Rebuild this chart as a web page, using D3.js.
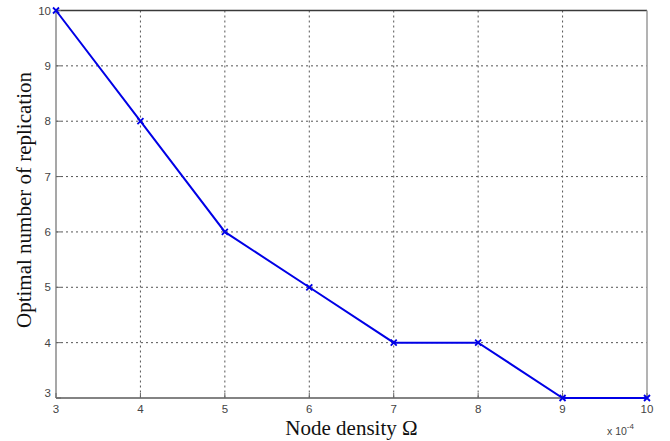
<!DOCTYPE html>
<html>
<head>
<meta charset="utf-8">
<script src="https://cdn.jsdelivr.net/npm/d3@7"></script>
<style>
  body { margin: 0; background: #fff; }
  svg { display: block; }
</style>
</head>
<body>
<div id="chart"></div>
<script>
// données
const density = [3, 4, 5, 6, 7, 8, 9, 10];        // x 10^-4
const replication = [10, 8, 6, 5, 4, 4, 3, 3];
const xTicks = [3, 4, 5, 6, 7, 8, 9, 10];
const yTicks = [3, 4, 5, 6, 7, 8, 9, 10];

const width = 670;
const height = 441;
const margin = { top: 10.5, right: 23, bottom: 43, left: 56 };

const svg = d3.select("#chart")
  .append("svg")
  .attr("width", width)
  .attr("height", height);

const x = d3.scaleLinear()
  .domain([3, 10])
  .range([margin.left, width - margin.right]);

const y = d3.scaleLinear()
  .domain([3, 10])
  .range([height - margin.bottom, margin.top]);

// grille pointillée
svg.append("g")
  .selectAll("line")
  .data(xTicks.slice(1, -1))
  .join("line")
  .attr("x1", d => x(d)).attr("x2", d => x(d))
  .attr("y1", margin.top).attr("y2", height - margin.bottom)
  .attr("stroke", "#555")
  .attr("stroke-width", 1)
  .attr("stroke-dasharray", "2,3");

svg.append("g")
  .selectAll("line")
  .data(yTicks.slice(1, -1))
  .join("line")
  .attr("x1", margin.left).attr("x2", width - margin.right)
  .attr("y1", d => y(d)).attr("y2", d => y(d))
  .attr("stroke", "#555")
  .attr("stroke-width", 1)
  .attr("stroke-dasharray", "2,3");

// cadre
const x0 = x(3), x1 = x(10), y0 = y(3), y1 = y(10);
const frame = [
  { a: [x0, y1], b: [x1, y1], c: "#3a3a3a" },
  { a: [x1, y1], b: [x1, y0], c: "#9a9a9a" },
  { a: [x0, y0], b: [x1, y0], c: "#5a5a5a" },
  { a: [x0, y1], b: [x0, y0], c: "#8a8a8a" }
];
svg.append("g")
  .selectAll("line")
  .data(frame)
  .join("line")
  .attr("x1", d => d.a[0]).attr("y1", d => d.a[1])
  .attr("x2", d => d.b[0]).attr("y2", d => d.b[1])
  .attr("stroke", d => d.c)
  .attr("stroke-width", 1.5);

// petits traits de graduation
const tickLen = 5;
svg.append("g")
  .selectAll("line")
  .data(xTicks)
  .join("line")
  .attr("x1", d => x(d)).attr("x2", d => x(d))
  .attr("y1", y0).attr("y2", y0 - tickLen)
  .attr("stroke", "#666");
svg.append("g")
  .selectAll("line")
  .data(yTicks)
  .join("line")
  .attr("x1", x0).attr("x2", x0 + tickLen)
  .attr("y1", d => y(d)).attr("y2", d => y(d))
  .attr("stroke", "#666");

// libellés des graduations
svg.append("g")
  .selectAll("text")
  .data(xTicks)
  .join("text")
  .attr("x", d => x(d))
  .attr("y", y0 + 15)
  .attr("text-anchor", "middle")
  .style("font-family", "'Liberation Sans', Arial, sans-serif")
  .style("font-size", "11.5px")
  .style("fill", "#444")
  .text(d => d);

svg.append("g")
  .selectAll("text")
  .data(yTicks)
  .join("text")
  .attr("x", x0 - 5)
  .attr("y", d => y(d) + (d === 3 ? -1 : 4))
  .attr("text-anchor", "end")
  .style("font-family", "'Liberation Sans', Arial, sans-serif")
  .style("font-size", "11.5px")
  .style("fill", "#444")
  .text(d => d);

// multiplicateur x 10^-4
const mult = svg.append("text")
  .attr("x", x1 - 40)
  .attr("y", y0 + 37)
  .style("font-family", "'Liberation Sans', Arial, sans-serif")
  .style("font-size", "10.5px")
  .style("fill", "#444");
mult.append("tspan").text("x 10");
mult.append("tspan").attr("dy", -6).style("font-size", "8px").text("-4");

// titres des axes
svg.append("text")
  .attr("x", (x0 + x1) / 2)
  .attr("y", height - 6)
  .attr("text-anchor", "middle")
  .style("font-family", "'Liberation Serif', 'Times New Roman', serif")
  .style("font-size", "21px")
  .style("fill", "#111")
  .text("Node density Ω");

svg.append("text")
  .attr("transform", `translate(31,200) rotate(-90)`)
  .attr("text-anchor", "middle")
  .style("font-family", "'Liberation Serif', 'Times New Roman', serif")
  .style("font-size", "21px")
  .style("fill", "#111")
  .text("Optimal number of replication");

// courbe
const pts = density.map((d, i) => ({ x: d, y: replication[i] }));
const line = d3.line().x(d => x(d.x)).y(d => y(d.y));

svg.append("path")
  .datum(pts)
  .attr("d", line)
  .attr("fill", "none")
  .attr("stroke", "#0000e6")
  .attr("stroke-width", 2);

// marqueurs en croix
const m = 3;
svg.append("g")
  .selectAll("path")
  .data(pts)
  .join("path")
  .attr("d", d => {
    const cx = x(d.x), cy = y(d.y);
    return `M${cx - m},${cy - m}L${cx + m},${cy + m}M${cx - m},${cy + m}L${cx + m},${cy - m}`;
  })
  .attr("stroke", "#0000e6")
  .attr("stroke-width", 1.8);
</script>
</body>
</html>
